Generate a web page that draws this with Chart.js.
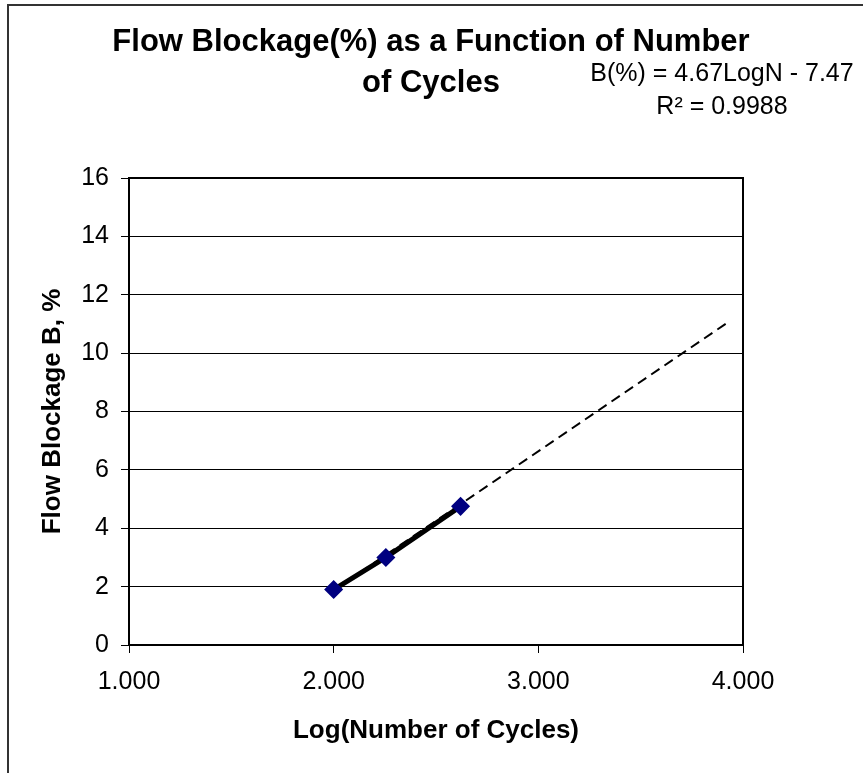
<!DOCTYPE html>
<html>
<head>
<meta charset="utf-8">
<title>Flow Blockage</title>
<script src="https://cdn.jsdelivr.net/npm/chart.js@4/dist/chart.umd.min.js"></script>
<style>
  html, body { margin: 0; padding: 0; background: #fff; }
  #wrap { width: 863px; height: 773px; position: relative; }
</style>
</head>
<body>
<div id="wrap"><canvas id="chart"></canvas></div>
<script>
// values
const logCycles = [2.0, 2.255, 2.62];
const blockage = [1.9, 3.0, 4.75];
const trendX = [2.0, 3.936];
const trendY = [1.87, 11.1];
const yTicks = [0, 2, 4, 6, 8, 10, 12, 14, 16];
const xTicks = [1, 2, 3, 4];
const titleLines = ['Flow Blockage(%) as a Function of Number', 'of Cycles'];
const equationLines = ['B(%) = 4.67LogN - 7.47', 'R\u00B2 = 0.9988'];

const FONT = '"Liberation Sans", Arial, sans-serif';

const frame = {
    id: 'frame',
    afterDraw(chart) {
        const ctx = chart.ctx;
        const a = chart.chartArea;
        ctx.save();
        // outer chart border (only left and top show in the crop)
        ctx.strokeStyle = '#333';
        ctx.lineWidth = 2;
        ctx.beginPath();
        ctx.moveTo(8, 773);
        ctx.lineTo(8, 5);
        ctx.lineTo(863, 5);
        ctx.stroke();
        // plot area box
        ctx.strokeStyle = '#000';
        ctx.lineWidth = 2;
        ctx.strokeRect(a.left, a.top, a.right - a.left, a.bottom - a.top);
        // chart title
        ctx.fillStyle = '#000';
        ctx.textAlign = 'center';
        ctx.textBaseline = 'middle';
        ctx.font = 'bold 31px ' + FONT;
        ctx.fillText(titleLines[0], 431, 42);
        ctx.fillText(titleLines[1], 431, 83);
        // trendline label
        ctx.font = '25px ' + FONT;
        ctx.fillText(equationLines[0], 722, 74);
        ctx.fillText(equationLines[1], 722, 107);
        ctx.restore();
    }
};

new Chart(document.getElementById('chart'), {
    type: 'scatter',
    data: {
        datasets: [{
            label: 'Trend',
            data: trendX.map((x, i) => ({ x: x, y: trendY[i] })),
            showLine: true,
            borderColor: '#000',
            borderWidth: 2,
            borderDash: [10, 6],
            pointRadius: 0,
            order: 2
        }, {
            label: 'Flow Blockage',
            data: logCycles.map((x, i) => ({ x: x, y: blockage[i] })),
            showLine: true,
            borderColor: '#000',
            borderWidth: 5,
            pointStyle: 'rectRot',
            pointRadius: 6,
            pointBackgroundColor: '#000080',
            pointBorderColor: '#000080',
            order: 1
        }]
    },
    options: {
        responsive: true,
        maintainAspectRatio: false,
        animation: false,
        devicePixelRatio: 1,
        layout: { padding: { left: 0, top: 178, right: 120, bottom: 0 } },
        plugins: {
            legend: { display: false },
            tooltip: { enabled: false }
        },
        scales: {
            x: {
                type: 'linear',
                min: 1,
                max: 4,
                afterFit: s => { s.height = 128; },
                afterBuildTicks: s => { s.ticks = xTicks.map(v => ({ value: v })); },
                grid: { drawOnChartArea: false, color: '#000', tickLength: 8, lineWidth: 1 },
                border: { display: false },
                ticks: {
                    color: '#000',
                    font: { family: FONT, size: 25 },
                    padding: 14,
                    maxRotation: 0,
                    callback: v => v.toFixed(3)
                },
                title: {
                    display: true,
                    text: 'Log(Number of Cycles)',
                    color: '#000',
                    font: { family: FONT, size: 26, weight: 'bold' },
                    padding: { top: 0, bottom: 27 }
                }
            },
            y: {
                type: 'linear',
                min: 0,
                max: 16,
                afterFit: s => { s.width = 129; },
                afterBuildTicks: s => { s.ticks = yTicks.map(v => ({ value: v })); },
                grid: { color: '#000', tickLength: 8, lineWidth: 1 },
                border: { display: false },
                ticks: {
                    color: '#000',
                    font: { family: FONT, size: 25 },
                    padding: 12
                },
                title: {
                    display: true,
                    text: 'Flow Blockage B, %',
                    color: '#000',
                    font: { family: FONT, size: 26, weight: 'bold' },
                    padding: { top: 37, bottom: 0 }
                }
            }
        }
    },
    plugins: [frame]
});
</script>
</body>
</html>
